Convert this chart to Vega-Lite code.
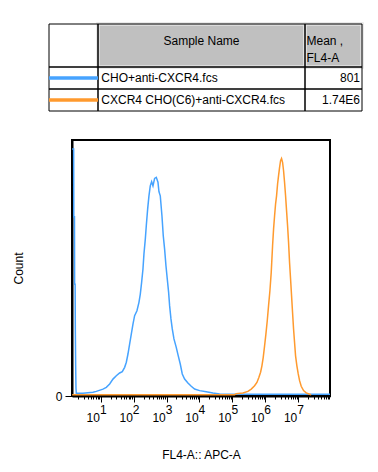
{
  "$schema": "https://vega.github.io/schema/vega-lite/v6.json",
  "padding": {"left": 11, "top": 22, "right": 0, "bottom": 0},
  "spacing": 27,
  "config": {
    "font": "Liberation Sans",
    "view": {"stroke": null},
    "axis": {"labelFont": "Liberation Sans", "titleFont": "Liberation Sans", "labelColor": "black", "titleColor": "black", "titleFontWeight": "normal", "domainColor": "black", "tickColor": "black", "grid": false}
  },
  "datasets": {
    "cells": [
      {"row": "header", "col": "legend", "kind": "blank", "x": 0, "x2": 49, "y": 0, "y2": 43},
      {"row": "header", "col": "name", "kind": "head", "x": 49, "x2": 256, "y": 0, "y2": 43},
      {"row": "header", "col": "mean", "kind": "head", "x": 256, "x2": 313, "y": 0, "y2": 43},
      {"row": "r1", "col": "legend", "kind": "body", "x": 0, "x2": 49, "y": 43, "y2": 65},
      {"row": "r1", "col": "name", "kind": "body", "x": 49, "x2": 256, "y": 43, "y2": 65},
      {"row": "r1", "col": "mean", "kind": "body", "x": 256, "x2": 313, "y": 43, "y2": 65},
      {"row": "r2", "col": "legend", "kind": "body", "x": 0, "x2": 49, "y": 65, "y2": 87},
      {"row": "r2", "col": "name", "kind": "body", "x": 49, "x2": 256, "y": 65, "y2": 87},
      {"row": "r2", "col": "mean", "kind": "body", "x": 256, "x2": 313, "y": 65, "y2": 87}
    ],
    "legendlines": [
      {"sample": "CHO+anti-CXCR4.fcs", "x": 0, "x2": 49, "y": 54},
      {"sample": "CXCR4 CHO(C6)+anti-CXCR4.fcs", "x": 0, "x2": 49, "y": 76}
    ],
    "tabletext": [
      {"anchor": "center", "label": "Sample Name", "x": 152.5, "y": 16.5},
      {"anchor": "left", "label": "Mean ,", "x": 257.5, "y": 16.5},
      {"anchor": "left", "label": "FL4-A", "x": 257.5, "y": 33.5},
      {"anchor": "left", "label": "CHO+anti-CXCR4.fcs", "x": 52.3, "y": 54},
      {"anchor": "left", "label": "CXCR4 CHO(C6)+anti-CXCR4.fcs", "x": 52.3, "y": 76},
      {"anchor": "right", "label": "801", "x": 311, "y": 54},
      {"anchor": "right", "label": "1.74E6", "x": 311, "y": 76}
    ],
    "hist": [
      {"sample": "CHO+anti-CXCR4.fcs", "logx": 0.13, "count": 96.5},
      {"sample": "CHO+anti-CXCR4.fcs", "logx": 0.175, "count": 96.5},
      {"sample": "CHO+anti-CXCR4.fcs", "logx": 0.18, "count": 70},
      {"sample": "CHO+anti-CXCR4.fcs", "logx": 0.2, "count": 70},
      {"sample": "CHO+anti-CXCR4.fcs", "logx": 0.205, "count": 43.7},
      {"sample": "CHO+anti-CXCR4.fcs", "logx": 0.22, "count": 43.7},
      {"sample": "CHO+anti-CXCR4.fcs", "logx": 0.226, "count": 26},
      {"sample": "CHO+anti-CXCR4.fcs", "logx": 0.236, "count": 12},
      {"sample": "CHO+anti-CXCR4.fcs", "logx": 0.246, "count": 3},
      {"sample": "CHO+anti-CXCR4.fcs", "logx": 0.256, "count": 1.05},
      {"sample": "CHO+anti-CXCR4.fcs", "logx": 0.459, "count": 1.05},
      {"sample": "CHO+anti-CXCR4.fcs", "logx": 0.763, "count": 1.45},
      {"sample": "CHO+anti-CXCR4.fcs", "logx": 0.864, "count": 1.8},
      {"sample": "CHO+anti-CXCR4.fcs", "logx": 1.067, "count": 2.7},
      {"sample": "CHO+anti-CXCR4.fcs", "logx": 1.168, "count": 3.4},
      {"sample": "CHO+anti-CXCR4.fcs", "logx": 1.27, "count": 4.7},
      {"sample": "CHO+anti-CXCR4.fcs", "logx": 1.371, "count": 6.6},
      {"sample": "CHO+anti-CXCR4.fcs", "logx": 1.472, "count": 7.9},
      {"sample": "CHO+anti-CXCR4.fcs", "logx": 1.574, "count": 9.0},
      {"sample": "CHO+anti-CXCR4.fcs", "logx": 1.654, "count": 9.5},
      {"sample": "CHO+anti-CXCR4.fcs", "logx": 1.726, "count": 11.2},
      {"sample": "CHO+anti-CXCR4.fcs", "logx": 1.777, "count": 13.2},
      {"sample": "CHO+anti-CXCR4.fcs", "logx": 1.827, "count": 16.4},
      {"sample": "CHO+anti-CXCR4.fcs", "logx": 1.877, "count": 20.3},
      {"sample": "CHO+anti-CXCR4.fcs", "logx": 1.928, "count": 24.2},
      {"sample": "CHO+anti-CXCR4.fcs", "logx": 1.979, "count": 28.1},
      {"sample": "CHO+anti-CXCR4.fcs", "logx": 2.029, "count": 31.4},
      {"sample": "CHO+anti-CXCR4.fcs", "logx": 2.1, "count": 33.3},
      {"sample": "CHO+anti-CXCR4.fcs", "logx": 2.161, "count": 36.6},
      {"sample": "CHO+anti-CXCR4.fcs", "logx": 2.202, "count": 39.8},
      {"sample": "CHO+anti-CXCR4.fcs", "logx": 2.242, "count": 44.4},
      {"sample": "CHO+anti-CXCR4.fcs", "logx": 2.283, "count": 49.6},
      {"sample": "CHO+anti-CXCR4.fcs", "logx": 2.313, "count": 55.5},
      {"sample": "CHO+anti-CXCR4.fcs", "logx": 2.354, "count": 61.3},
      {"sample": "CHO+anti-CXCR4.fcs", "logx": 2.384, "count": 66.5},
      {"sample": "CHO+anti-CXCR4.fcs", "logx": 2.425, "count": 73.0},
      {"sample": "CHO+anti-CXCR4.fcs", "logx": 2.465, "count": 78.2},
      {"sample": "CHO+anti-CXCR4.fcs", "logx": 2.505, "count": 82.1},
      {"sample": "CHO+anti-CXCR4.fcs", "logx": 2.546, "count": 83.7},
      {"sample": "CHO+anti-CXCR4.fcs", "logx": 2.587, "count": 82.1},
      {"sample": "CHO+anti-CXCR4.fcs", "logx": 2.637, "count": 85.0},
      {"sample": "CHO+anti-CXCR4.fcs", "logx": 2.688, "count": 85.4},
      {"sample": "CHO+anti-CXCR4.fcs", "logx": 2.739, "count": 83.5},
      {"sample": "CHO+anti-CXCR4.fcs", "logx": 2.769, "count": 79.8},
      {"sample": "CHO+anti-CXCR4.fcs", "logx": 2.809, "count": 78.2},
      {"sample": "CHO+anti-CXCR4.fcs", "logx": 2.86, "count": 70.4},
      {"sample": "CHO+anti-CXCR4.fcs", "logx": 2.9, "count": 62.6},
      {"sample": "CHO+anti-CXCR4.fcs", "logx": 2.941, "count": 57.4},
      {"sample": "CHO+anti-CXCR4.fcs", "logx": 2.982, "count": 50.9},
      {"sample": "CHO+anti-CXCR4.fcs", "logx": 3.022, "count": 45.7},
      {"sample": "CHO+anti-CXCR4.fcs", "logx": 3.063, "count": 40.5},
      {"sample": "CHO+anti-CXCR4.fcs", "logx": 3.093, "count": 35.3},
      {"sample": "CHO+anti-CXCR4.fcs", "logx": 3.134, "count": 30.1},
      {"sample": "CHO+anti-CXCR4.fcs", "logx": 3.174, "count": 26.2},
      {"sample": "CHO+anti-CXCR4.fcs", "logx": 3.225, "count": 22.3},
      {"sample": "CHO+anti-CXCR4.fcs", "logx": 3.295, "count": 19.0},
      {"sample": "CHO+anti-CXCR4.fcs", "logx": 3.356, "count": 15.7},
      {"sample": "CHO+anti-CXCR4.fcs", "logx": 3.417, "count": 12.5},
      {"sample": "CHO+anti-CXCR4.fcs", "logx": 3.478, "count": 8.6},
      {"sample": "CHO+anti-CXCR4.fcs", "logx": 3.549, "count": 6.6},
      {"sample": "CHO+anti-CXCR4.fcs", "logx": 3.65, "count": 5.1},
      {"sample": "CHO+anti-CXCR4.fcs", "logx": 3.751, "count": 3.8},
      {"sample": "CHO+anti-CXCR4.fcs", "logx": 3.853, "count": 2.7},
      {"sample": "CHO+anti-CXCR4.fcs", "logx": 4.005, "count": 2.1},
      {"sample": "CHO+anti-CXCR4.fcs", "logx": 4.207, "count": 1.7},
      {"sample": "CHO+anti-CXCR4.fcs", "logx": 4.41, "count": 1.2},
      {"sample": "CHO+anti-CXCR4.fcs", "logx": 4.613, "count": 0.8},
      {"sample": "CHO+anti-CXCR4.fcs", "logx": 5.5, "count": 0.7},
      {"sample": "CHO+anti-CXCR4.fcs", "logx": 7.97, "count": 0.66},
      {"sample": "CXCR4 CHO(C6)+anti-CXCR4.fcs", "logx": 0.13, "count": 0.5},
      {"sample": "CXCR4 CHO(C6)+anti-CXCR4.fcs", "logx": 5.069, "count": 0.5},
      {"sample": "CXCR4 CHO(C6)+anti-CXCR4.fcs", "logx": 5.12, "count": 0.9},
      {"sample": "CXCR4 CHO(C6)+anti-CXCR4.fcs", "logx": 5.322, "count": 1.2},
      {"sample": "CXCR4 CHO(C6)+anti-CXCR4.fcs", "logx": 5.474, "count": 1.8},
      {"sample": "CXCR4 CHO(C6)+anti-CXCR4.fcs", "logx": 5.575, "count": 2.7},
      {"sample": "CXCR4 CHO(C6)+anti-CXCR4.fcs", "logx": 5.677, "count": 4.0},
      {"sample": "CXCR4 CHO(C6)+anti-CXCR4.fcs", "logx": 5.748, "count": 5.3},
      {"sample": "CXCR4 CHO(C6)+anti-CXCR4.fcs", "logx": 5.809, "count": 7.3},
      {"sample": "CXCR4 CHO(C6)+anti-CXCR4.fcs", "logx": 5.859, "count": 9.3},
      {"sample": "CXCR4 CHO(C6)+anti-CXCR4.fcs", "logx": 5.9, "count": 11.8},
      {"sample": "CXCR4 CHO(C6)+anti-CXCR4.fcs", "logx": 5.94, "count": 15.1},
      {"sample": "CXCR4 CHO(C6)+anti-CXCR4.fcs", "logx": 5.981, "count": 19.6},
      {"sample": "CXCR4 CHO(C6)+anti-CXCR4.fcs", "logx": 6.021, "count": 24.2},
      {"sample": "CXCR4 CHO(C6)+anti-CXCR4.fcs", "logx": 6.062, "count": 29.4},
      {"sample": "CXCR4 CHO(C6)+anti-CXCR4.fcs", "logx": 6.102, "count": 35.3},
      {"sample": "CXCR4 CHO(C6)+anti-CXCR4.fcs", "logx": 6.143, "count": 41.1},
      {"sample": "CXCR4 CHO(C6)+anti-CXCR4.fcs", "logx": 6.183, "count": 48.3},
      {"sample": "CXCR4 CHO(C6)+anti-CXCR4.fcs", "logx": 6.224, "count": 58.7},
      {"sample": "CXCR4 CHO(C6)+anti-CXCR4.fcs", "logx": 6.254, "count": 65.2},
      {"sample": "CXCR4 CHO(C6)+anti-CXCR4.fcs", "logx": 6.285, "count": 70.4},
      {"sample": "CXCR4 CHO(C6)+anti-CXCR4.fcs", "logx": 6.315, "count": 75.0},
      {"sample": "CXCR4 CHO(C6)+anti-CXCR4.fcs", "logx": 6.345, "count": 78.2},
      {"sample": "CXCR4 CHO(C6)+anti-CXCR4.fcs", "logx": 6.376, "count": 82.8},
      {"sample": "CXCR4 CHO(C6)+anti-CXCR4.fcs", "logx": 6.406, "count": 86.1},
      {"sample": "CXCR4 CHO(C6)+anti-CXCR4.fcs", "logx": 6.437, "count": 89.3},
      {"sample": "CXCR4 CHO(C6)+anti-CXCR4.fcs", "logx": 6.467, "count": 91.9},
      {"sample": "CXCR4 CHO(C6)+anti-CXCR4.fcs", "logx": 6.497, "count": 92.8},
      {"sample": "CXCR4 CHO(C6)+anti-CXCR4.fcs", "logx": 6.528, "count": 91.3},
      {"sample": "CXCR4 CHO(C6)+anti-CXCR4.fcs", "logx": 6.558, "count": 88.0},
      {"sample": "CXCR4 CHO(C6)+anti-CXCR4.fcs", "logx": 6.588, "count": 83.5},
      {"sample": "CXCR4 CHO(C6)+anti-CXCR4.fcs", "logx": 6.619, "count": 78.2},
      {"sample": "CXCR4 CHO(C6)+anti-CXCR4.fcs", "logx": 6.649, "count": 72.4},
      {"sample": "CXCR4 CHO(C6)+anti-CXCR4.fcs", "logx": 6.68, "count": 66.5},
      {"sample": "CXCR4 CHO(C6)+anti-CXCR4.fcs", "logx": 6.71, "count": 60.0},
      {"sample": "CXCR4 CHO(C6)+anti-CXCR4.fcs", "logx": 6.74, "count": 52.2},
      {"sample": "CXCR4 CHO(C6)+anti-CXCR4.fcs", "logx": 6.771, "count": 45.7},
      {"sample": "CXCR4 CHO(C6)+anti-CXCR4.fcs", "logx": 6.801, "count": 39.2},
      {"sample": "CXCR4 CHO(C6)+anti-CXCR4.fcs", "logx": 6.831, "count": 32.7},
      {"sample": "CXCR4 CHO(C6)+anti-CXCR4.fcs", "logx": 6.862, "count": 26.2},
      {"sample": "CXCR4 CHO(C6)+anti-CXCR4.fcs", "logx": 6.892, "count": 21.0},
      {"sample": "CXCR4 CHO(C6)+anti-CXCR4.fcs", "logx": 6.923, "count": 15.7},
      {"sample": "CXCR4 CHO(C6)+anti-CXCR4.fcs", "logx": 6.963, "count": 11.8},
      {"sample": "CXCR4 CHO(C6)+anti-CXCR4.fcs", "logx": 7.004, "count": 8.6},
      {"sample": "CXCR4 CHO(C6)+anti-CXCR4.fcs", "logx": 7.045, "count": 6.0},
      {"sample": "CXCR4 CHO(C6)+anti-CXCR4.fcs", "logx": 7.095, "count": 3.8},
      {"sample": "CXCR4 CHO(C6)+anti-CXCR4.fcs", "logx": 7.166, "count": 2.1},
      {"sample": "CXCR4 CHO(C6)+anti-CXCR4.fcs", "logx": 7.247, "count": 1.2},
      {"sample": "CXCR4 CHO(C6)+anti-CXCR4.fcs", "logx": 7.349, "count": 0.66},
      {"sample": "CXCR4 CHO(C6)+anti-CXCR4.fcs", "logx": 7.399, "count": 0.5}
    ]
  },
  "vconcat": [
    {
      "width": 258,
      "height": 87,
      "view": {"stroke": null},
      "encoding": {
        "x": {"field": "x", "type": "quantitative", "scale": {"domain": [23, 281], "nice": false, "zero": false}, "axis": null},
        "y": {"field": "y", "type": "quantitative", "scale": {"domain": [0, 87], "reverse": true, "nice": false, "zero": false}, "axis": null}
      },
      "layer": [
        {
          "data": {"name": "cells"},
          "mark": {"type": "rect", "strokeWidth": 0},
          "encoding": {
            "x2": {"field": "x2"},
            "y2": {"field": "y2"},
            "fill": {"condition": {"test": "datum.kind == 'head'", "value": "#c0c0c0"}, "value": "white"}
          }
        },
        {
          "data": {"name": "cells"},
          "transform": [{"filter": "datum.kind == 'head'"}],
          "mark": {"type": "rect", "fill": null, "stroke": "#e4e4e4", "strokeWidth": 3.5},
          "encoding": {"x2": {"field": "x2"}, "y2": {"field": "y2"}}
        },
        {
          "data": {"name": "cells"},
          "mark": {"type": "rect", "fill": null, "stroke": "black", "strokeWidth": 1},
          "encoding": {"x2": {"field": "x2"}, "y2": {"field": "y2"}}
        },
        {
          "data": {"name": "legendlines"},
          "mark": {"type": "rule", "strokeWidth": 3.5},
          "encoding": {
            "x2": {"field": "x2"},
            "color": {"field": "sample", "type": "nominal", "scale": {"domain": ["CHO+anti-CXCR4.fcs", "CXCR4 CHO(C6)+anti-CXCR4.fcs"], "range": ["#46a3ff", "#ff9a2e"]}, "legend": null}
          }
        },
        {
          "data": {"name": "tabletext"},
          "transform": [{"filter": "datum.anchor == 'center'"}],
          "mark": {"type": "text", "align": "center", "baseline": "middle", "fontSize": 12, "font": "Liberation Sans", "color": "black"},
          "encoding": {"text": {"field": "label"}}
        },
        {
          "data": {"name": "tabletext"},
          "transform": [{"filter": "datum.anchor == 'left'"}],
          "mark": {"type": "text", "align": "left", "baseline": "middle", "fontSize": 12, "font": "Liberation Sans", "color": "black"},
          "encoding": {"text": {"field": "label"}}
        },
        {
          "data": {"name": "tabletext"},
          "transform": [{"filter": "datum.anchor == 'right'"}],
          "mark": {"type": "text", "align": "right", "baseline": "middle", "fontSize": 12, "font": "Liberation Sans", "color": "black"},
          "encoding": {"text": {"field": "label"}}
        }
      ]
    },
    {
      "width": 258,
      "height": 256,
      "view": {"stroke": "black", "strokeWidth": 2},
      "data": {"name": "hist"},
      "resolve": {"axis": {"x": "independent"}},
      "encoding": {
        "y": {
          "field": "count", "type": "quantitative",
          "scale": {"domain": [0, 100], "nice": false},
          "axis": {"title": "Count", "titleFontSize": 12, "titlePadding": 30, "values": [0], "tickSize": 7, "labelPadding": 3, "labelFontSize": 12, "domainWidth": 2, "tickWidth": 1}
        },
        "color": {"field": "sample", "type": "nominal", "scale": {"domain": ["CHO+anti-CXCR4.fcs", "CXCR4 CHO(C6)+anti-CXCR4.fcs"], "range": ["#46a3ff", "#ff9a2e"]}, "legend": null}
      },
      "layer": [
        {
          "transform": [{"filter": "datum.sample == 'CHO+anti-CXCR4.fcs'"}],
          "mark": {"type": "line", "strokeWidth": 1.5, "clip": true},
          "encoding": {
            "x": {
              "field": "logx", "type": "quantitative",
              "scale": {"domain": [0.125, 7.97], "nice": false, "zero": false},
              "axis": {
                "orient": "bottom",
                "title": "FL4-A:: APC-A",
                "titleFontSize": 12,
                "titlePadding": 26,
                "values": [0.301, 0.477, 0.602, 0.699, 0.778, 0.845, 0.903, 0.954, 1, 1.301, 1.477, 1.602, 1.699, 1.778, 1.845, 1.903, 1.954, 2, 2.301, 2.477, 2.602, 2.699, 2.778, 2.845, 2.903, 2.954, 3, 3.301, 3.477, 3.602, 3.699, 3.778, 3.845, 3.903, 3.954, 4, 4.301, 4.477, 4.602, 4.699, 4.778, 4.845, 4.903, 4.954, 5, 5.301, 5.477, 5.602, 5.699, 5.778, 5.845, 5.903, 5.954, 6, 6.301, 6.477, 6.602, 6.699, 6.778, 6.845, 6.903, 6.954, 7, 7.301, 7.477, 7.602, 7.699, 7.778, 7.845, 7.903, 7.954],
                "labelExpr": "datum.value % 1 == 0 ? '10' : ''",
                "tickSize": {"condition": {"test": "datum.value % 1 == 0", "value": 6}, "value": 3},
                "labelAlign": "center",
                "labelOffset": -8,
                "labelPadding": 10,
                "labelFontSize": 12,
                "labelOverlap": false,
                "labelFlush": false,
                "domainWidth": 2,
                "tickWidth": 1
              }
            }
          }
        },
        {
          "transform": [{"filter": "datum.sample != 'CHO+anti-CXCR4.fcs'"}],
          "mark": {"type": "line", "strokeWidth": 1.5, "clip": true},
          "encoding": {
            "x": {
              "field": "logx", "type": "quantitative",
              "scale": {"domain": [0.125, 7.97], "nice": false, "zero": false},
              "axis": {
                "orient": "bottom",
                "title": null,
                "values": [1, 2, 3, 4, 5, 6, 7],
                "labelExpr": "'' + datum.value",
                "domain": false,
                "ticks": false,
                "labelAlign": "center",
                "labelOffset": 2,
                "labelPadding": 8,
                "labelFontSize": 12,
                "labelOverlap": false,
                "labelFlush": false
              }
            }
          }
        }
      ]
    }
  ]
}
